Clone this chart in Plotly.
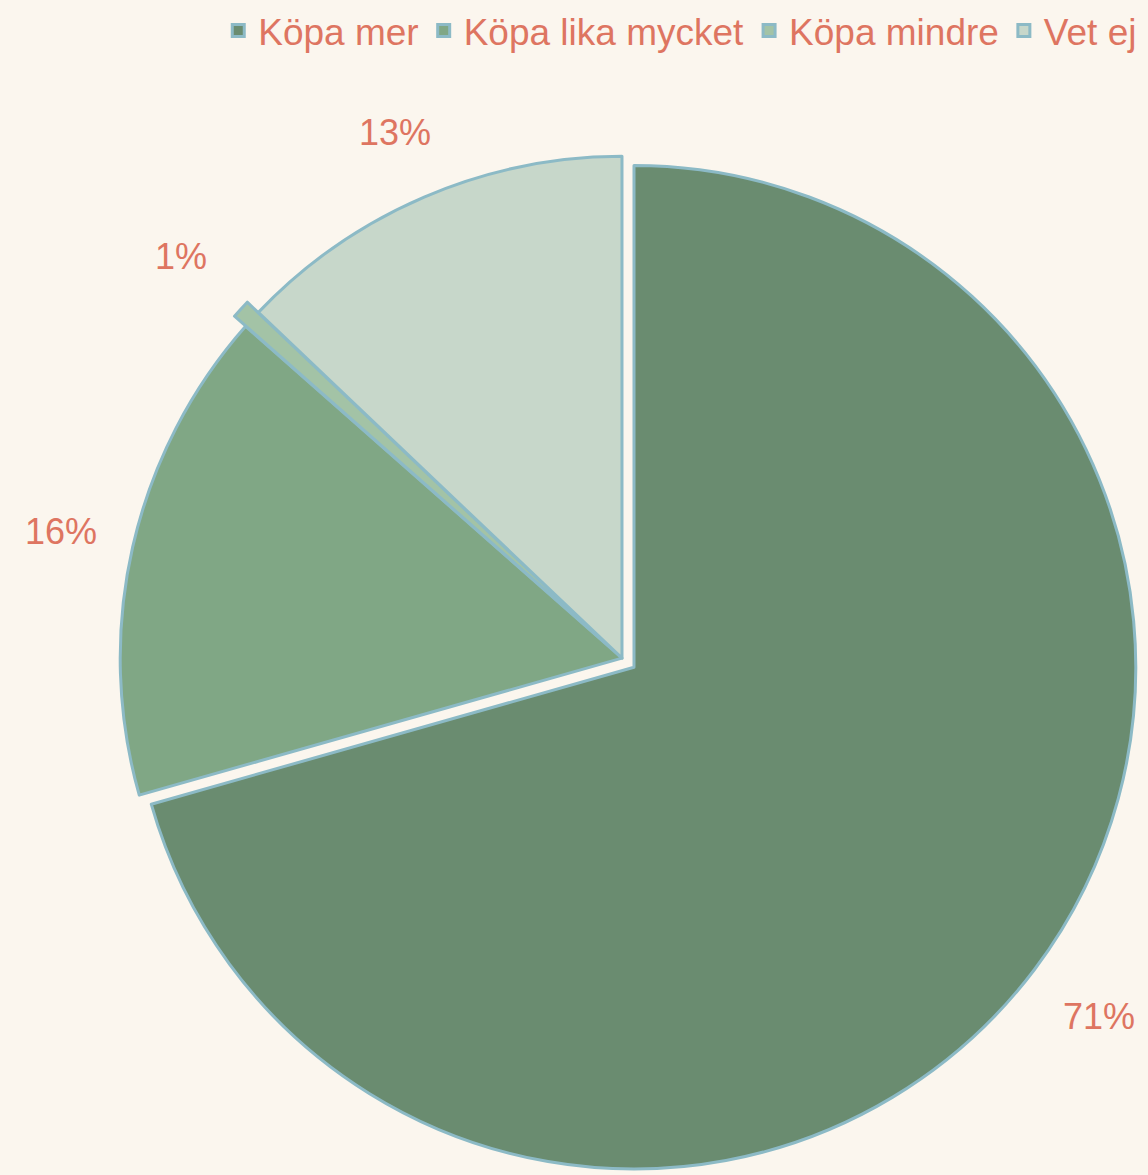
import math
import plotly.graph_objects as go

BAKGRUND = "#FBF6EE"
TEXTFARG = "#DE7561"
KANTFARG = "#8CBAC6"
TYPSNITT = "Liberation Sans, Arial"

BREDD, HOJD = 1148, 1175

kategorier = ["Köpa mer", "Köpa lika mycket", "Köpa mindre", "Vet ej"]
andelar = [70.6, 15.9, 0.6, 12.9]
farger = ["#6A8C70", "#80A785", "#A3C3A6", "#C7D7CA"]
utdrag = [0.03, 0, 0.03, 0]

dom_x = [0.0836, 1.0]
dom_y = [0.0, 0.885]

fig = go.Figure(go.Pie(
    labels=kategorier,
    values=andelar,
    sort=False,
    direction="clockwise",
    rotation=0,
    pull=utdrag,
    marker=dict(colors=farger, line=dict(color=KANTFARG, width=3)),
    textinfo="none",
    hoverinfo="label+percent",
    domain=dict(x=dom_x, y=dom_y),
))

# procentetiketter utanför tårtan, placerade efter varje sektors mittvinkel
bw = BREDD * (dom_x[1] - dom_x[0])
bh = HOJD * (dom_y[1] - dom_y[0])
r = min(bw, bh) / (2 + 2 * max(utdrag))
cx = BREDD * (dom_x[0] + dom_x[1]) / 2
cy = HOJD * (1 - dom_y[0]) - bh / 2
summa = sum(andelar)
kum = 0
for namn, v, p in zip(kategorier, andelar, utdrag):
    andel = v / summa
    vinkel = math.radians(360 * (kum + andel / 2))
    kum += andel
    k = 1.14 + 1.5 * p
    px_ = cx + k * r * math.sin(vinkel)
    py_ = cy - k * r * math.cos(vinkel)
    fig.add_annotation(x=px_ / BREDD, y=1 - py_ / HOJD, xref="paper", yref="paper",
                       text=f"{andel:.0%}", showarrow=False,
                       xanchor="center", yanchor="middle",
                       font=dict(size=36, color=TEXTFARG, family=TYPSNITT))

fig.update_layout(
    width=BREDD, height=HOJD,
    paper_bgcolor=BAKGRUND, plot_bgcolor=BAKGRUND,
    margin=dict(l=0, r=0, t=0, b=0),
    font=dict(family=TYPSNITT, color=TEXTFARG, size=37),
    legend=dict(orientation="h", x=0.995, xanchor="right", y=1.006, yanchor="top",
                font=dict(size=37, color=TEXTFARG), bgcolor="rgba(0,0,0,0)"),
    showlegend=True,
)

fig.write_html("out.html", config={"displayModeBar": False},
               post_script="document.body.style.margin='0';")
